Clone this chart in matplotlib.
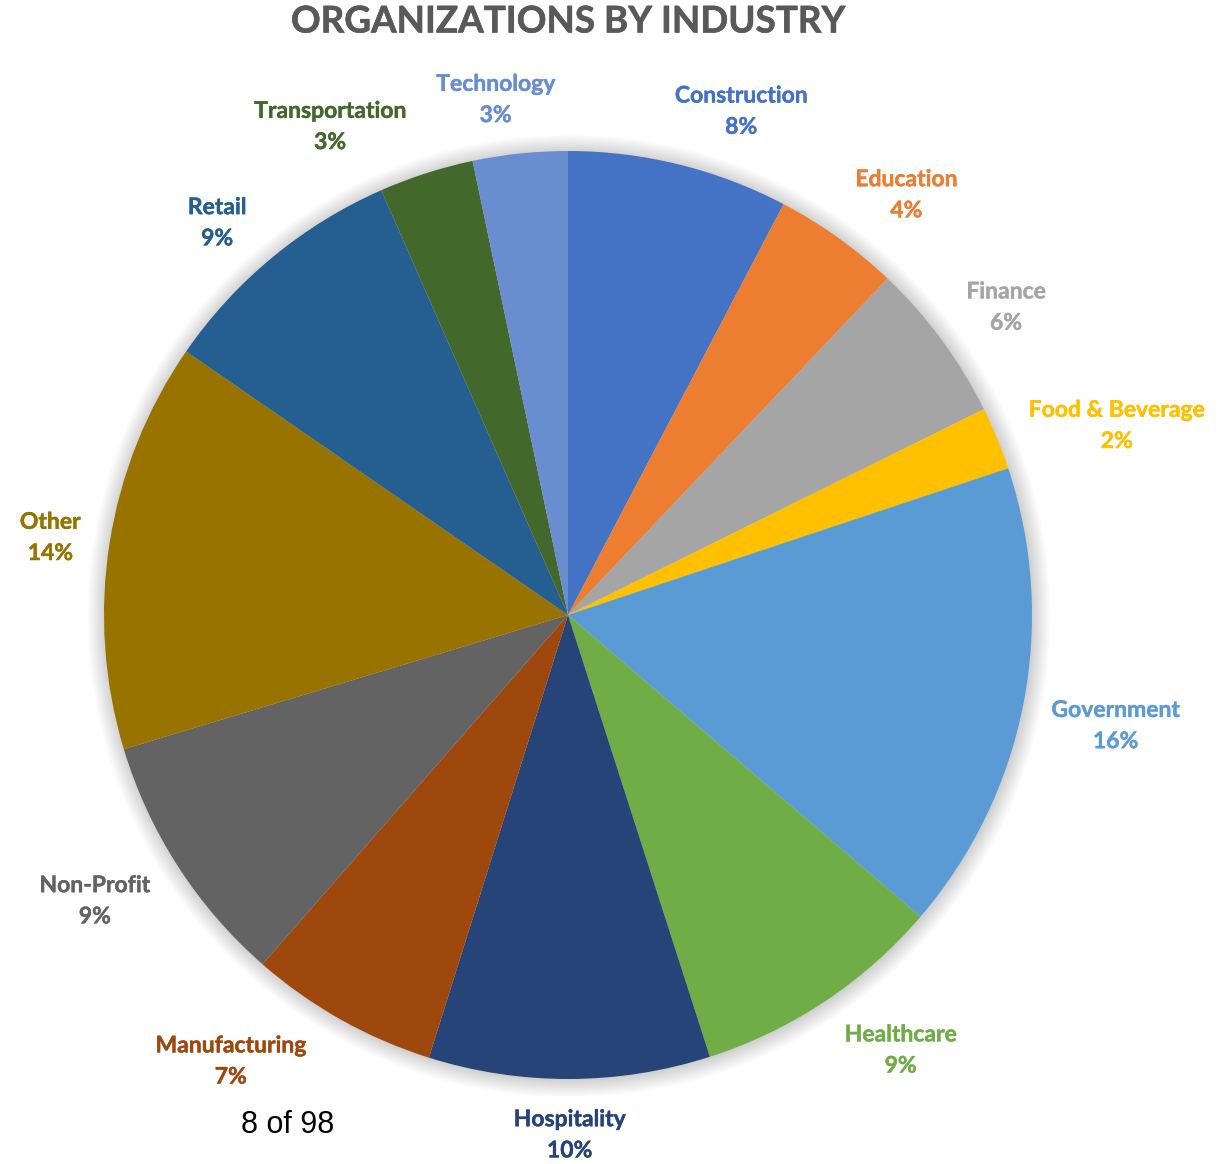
import numpy as np
import matplotlib.pyplot as plt
import matplotlib.patheffects as pe
from matplotlib.patches import Circle

industries = ['Construction', 'Education', 'Finance', 'Food & Beverage', 'Government',
              'Healthcare', 'Hospitality', 'Manufacturing', 'Non-Profit', 'Other',
              'Retail', 'Transportation', 'Technology']
shares = [7.7, 4.4, 5.6, 2.2, 16.4, 8.8, 9.8, 6.6, 8.9, 14.3, 8.8, 3.3, 3.3]
colors = ['#4472C4', '#ED7D31', '#A5A5A5', '#FFC000', '#5B9BD5', '#70AD47', '#264478',
          '#9E480E', '#636363', '#997300', '#255E91', '#43682B', '#698ED0']
title = 'ORGANIZATIONS BY INDUSTRY'
page_note = '8 of 98'

# small angular nudges (deg, clockwise) where labels sit off the slice middle
nudges = [5, 3, 1, 3, 0, -4, 0, 8, 2, 0, -2, -8, -2]

W, H = 1228, 1164
R_PX = 464          # pie radius in pixels
CX, CY = 568, 615   # pie centre in pixels (from top-left)

fig = plt.figure(figsize=(W / 100, H / 100), dpi=100)
ax = fig.add_axes([0, 0, 1, 1])
wedges, _ = ax.pie(shares, colors=colors, startangle=90, counterclock=False,
                   radius=1, wedgeprops=dict(linewidth=0))
ax.set_xlim(-CX / R_PX, (W - CX) / R_PX)
ax.set_ylim(-(H - CY) / R_PX, CY / R_PX)
ax.axis('off')

# soft shadow round the pie
for i in range(16):
    ax.add_patch(Circle((0.002, -0.002), 1 + 0.0025 * i, color='black',
                        alpha=0.012, lw=0, zorder=0))

total = sum(shares)
renderer = fig.canvas.get_renderer()
gap = 26
for w, name, val, col, nd in zip(wedges, industries, shares, colors, nudges):
    mid = np.deg2rad((w.theta1 + w.theta2) / 2 - nd)
    ux, uy = np.cos(mid), np.sin(mid)
    t = ax.text(0, 0, f'{name}\n{val / total * 100:.0f}%', ha='center', va='center',
                color=col, fontsize=16.5, fontweight='bold', family='Lato',
                linespacing=1.6,
                path_effects=[pe.withStroke(linewidth=0.3, foreground=col)])
    bb = t.get_window_extent(renderer)
    hw, hh = bb.width / 2, bb.height / 2
    d = (R_PX + gap + hw * abs(ux) + hh * abs(uy)) / R_PX
    t.set_position((d * ux, d * uy - 4 / R_PX))

fig.text(CX / W, 1 - 22 / H, title, ha='center', va='center', color='#595959',
         fontsize=26.5, fontweight='bold', family='Lato',
         path_effects=[pe.withStroke(linewidth=0.4, foreground='#595959')])
fig.text(288 / W, 1 - 1125 / H, page_note, ha='center', va='center', color='black',
         fontsize=22, family='Liberation Sans')

fig.savefig('out.png', dpi=100)
